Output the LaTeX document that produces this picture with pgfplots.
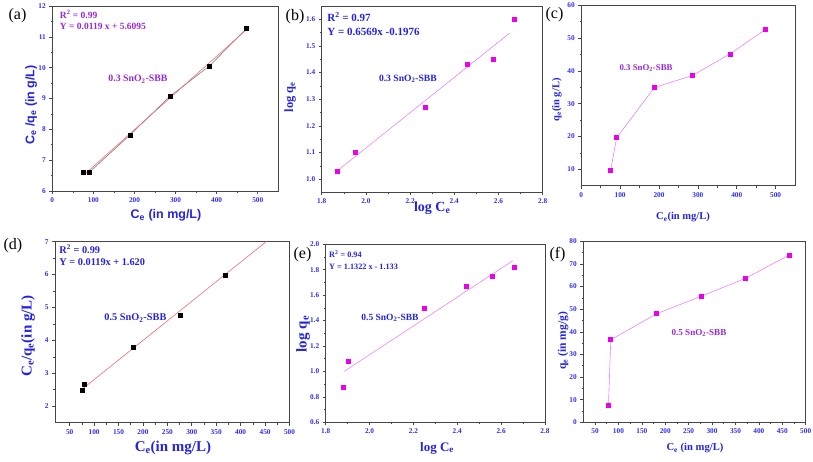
\documentclass[border=0pt]{standalone}
\usepackage{pgfplots}
\pgfplotsset{compat=1.18}
\usepackage{fontspec}
\setmainfont{Liberation Serif}
\newfontfamily\arialfont{Liberation Sans}
\definecolor{lblue}{RGB}{35,35,225}
\definecolor{tblue}{RGB}{45,45,240}
\definecolor{apurple}{RGB}{150,40,215}
\definecolor{mag}{RGB}{235,0,235}
\definecolor{vline}{RGB}{228,135,242}
\definecolor{frame}{RGB}{70,70,70}
\definecolor{fitred}{RGB}{240,110,110}
\pgfplotsset{
 panel/.style={scale only axis, anchor=south west, tick pos=left, tick align=outside,
  axis line style={frame, line width=0.9pt}, major tick length=3pt, minor tick length=1.8pt,
  every tick/.style={frame, line width=0.6pt}, minor tick num=1,
  tick label style={font=\fontsize{7.3}{8}\selectfont\bfseries, text=tblue},
  /pgf/number format/assume math mode=true,
  clip=true},
 onedec/.style={/pgf/number format/.cd, fixed, fixed zerofill, precision=1},
 msq/.style={only marks, mark=square*, mark size=2pt},
}
\begin{document}
\begin{tikzpicture}
\useasboundingbox (0,0) rectangle (813pt,461pt);
% ---------------- (a)
\begin{axis}[panel, at={(52.3pt,270pt)}, width=226pt, height=185pt,
 xmin=0, xmax=550, ymin=6, ymax=12, xtick={0,100,...,500}, ytick={6,7,...,12},
 xlabel={C\textsubscript{e} (in mg/L)}, ylabel={C\textsubscript{e} /q\textsubscript{e} (in g/L)},
 xlabel style={at={(axis description cs:0.503,-0.13)}, anchor=center, font=\arialfont\bfseries\fontsize{12.5}{13}\selectfont, text=lblue},
 ylabel style={at={(axis description cs:-0.094,0.465)}, anchor=center, font=\arialfont\bfseries\fontsize{12.5}{13}\selectfont, text=lblue}]
\addplot[color=frame!70, line width=0.6pt] coordinates {(76,6.6) (91,6.62) (188.5,7.81) (287,9.08) (383,10.06) (472.5,11.27)};
\addplot[color=fitred, line width=0.6pt] coordinates {(76,6.51) (473,11.24)};
\addplot[msq, color=black] coordinates {(76,6.6) (91,6.62) (188.5,7.81) (287,9.08) (383,10.06) (472.5,11.27)};
\node[anchor=west, font=\bfseries\fontsize{9.5}{10}\selectfont, text=apurple] at (rel axis cs:0.018,0.953) {R\textsuperscript{2} = 0.99};
\node[anchor=west, font=\bfseries\fontsize{9.5}{10}\selectfont, text=apurple] at (rel axis cs:0.018,0.888) {Y = 0.0119 x + 5.6095};
\node[font=\bfseries\fontsize{9.8}{10}\selectfont, text=apurple] at (rel axis cs:0.379,0.605) {0.3 SnO\textsubscript{2}-SBB};
\end{axis}
% ---------------- (b)
\begin{axis}[panel, at={(321.7pt,268.5pt)}, width=221pt, height=186.5pt,
 xmin=1.8, xmax=2.8, ymin=0.95, ymax=1.65, xtick={1.8,2.0,...,2.8}, ytick={1.0,1.1,...,1.6},
 xticklabel style={onedec}, yticklabel style={onedec},
 xlabel={log C\textsubscript{e}}, ylabel={log q\textsubscript{e}},
 xlabel style={at={(axis description cs:0.5,-0.085)}, anchor=center, font=\bfseries\fontsize{14}{15}\selectfont, text=lblue},
 ylabel style={at={(axis description cs:-0.143,0.512)}, anchor=center, font=\bfseries\fontsize{12.5}{13}\selectfont, text=lblue}]
\addplot[color=vline, line width=0.6pt] coordinates {(1.87,1.031) (2.65,1.548)};
\addplot[msq, color=mag] coordinates {(1.871,1.031) (1.950,1.101) (2.269,1.270) (2.459,1.430) (2.577,1.450) (2.669,1.600)};
\node[anchor=west, font=\bfseries\fontsize{11}{12}\selectfont, text=lblue] at (rel axis cs:0.01,0.943) {R\textsuperscript{2} = 0.97};
\node[anchor=west, font=\bfseries\fontsize{11}{12}\selectfont, text=lblue] at (rel axis cs:0.01,0.861) {Y = 0.6569x -0.1976};
\node[font=\bfseries\fontsize{9.6}{10}\selectfont, text=lblue] at (rel axis cs:0.39,0.609) {0.3 SnO\textsubscript{2}-SBB};
\end{axis}
% ---------------- (c)
\begin{axis}[panel, at={(581.3pt,275.3pt)}, width=213.7pt, height=180.4pt,
 xmin=0, xmax=550, ymin=5, ymax=60, xtick={0,100,...,500}, ytick={10,20,...,60},
 xlabel={C\textsubscript{e}(in mg/L)}, ylabel={q\textsubscript{e}(in g/L)},
 xlabel style={at={(axis description cs:0.476,-0.173)}, anchor=center, font=\bfseries\fontsize{10.5}{11}\selectfont, text=lblue},
 ylabel style={at={(axis description cs:-0.114,0.475)}, anchor=center, font=\bfseries\fontsize{10.5}{11}\selectfont, text=lblue}]
\addplot[color=vline, line width=0.6pt, mark=square*, mark size=2pt, mark options={color=mag}] coordinates {(75.5,9.6) (91,19.65) (188.7,35.0) (285.6,38.56) (382.5,45.16) (473.4,52.6)};
\node[font=\bfseries\fontsize{8.8}{9}\selectfont, text=apurple] at (rel axis cs:0.303,0.652) {0.3 SnO\textsubscript{2}-SBB};
\end{axis}
% ---------------- (d)
\begin{axis}[panel, at={(55pt,38.3pt)}, width=234.5pt, height=181pt,
 xmin=20, xmax=500, ymin=1.5, ymax=7, xtick={50,100,...,500}, ytick={2,3,...,7},
 xlabel={C\textsubscript{e}(in mg/L)}, ylabel={C\textsubscript{e}/q\textsubscript{e}(in g/L)},
 xlabel style={at={(axis description cs:0.503,-0.14)}, anchor=center, font=\bfseries\fontsize{15}{16}\selectfont, text=lblue},
 ylabel style={at={(axis description cs:-0.115,0.479)}, anchor=center, font=\bfseries\fontsize{15}{16}\selectfont, text=lblue}]
\addplot[color=fitred, line width=0.6pt] coordinates {(78,2.548) (453,7.01)};
\addplot[msq, color=black] coordinates {(76.5,2.48) (80.6,2.68) (180,3.795) (276,4.77) (368.6,5.986)};
\node[anchor=west, font=\bfseries\fontsize{10.3}{11}\selectfont, text=lblue] at (rel axis cs:0.004,0.96) {R\textsuperscript{2} = 0.99};
\node[anchor=west, font=\bfseries\fontsize{10.3}{11}\selectfont, text=lblue] at (rel axis cs:0.004,0.888) {Y = 0.0119x + 1.620};
\node[font=\bfseries\fontsize{10.3}{11}\selectfont, text=lblue] at (rel axis cs:0.343,0.578) {0.5 SnO\textsubscript{2}-SBB};
\end{axis}
% ---------------- (e)
\begin{axis}[panel, at={(325.7pt,38.7pt)}, width=219.3pt, height=178pt,
 xmin=1.8, xmax=2.8, ymin=0.6, ymax=2.0, xtick={1.8,2.0,...,2.8}, ytick={0.6,0.8,...,2.0},
 xticklabel style={onedec}, yticklabel style={onedec},
 xlabel={log C\textsubscript{e}}, ylabel={log q\textsubscript{e}},
 xlabel style={at={(axis description cs:0.508,-0.144)}, anchor=center, font=\bfseries\fontsize{13}{14}\selectfont, text=lblue},
 ylabel style={at={(axis description cs:-0.1035,0.496)}, anchor=center, font=\bfseries\fontsize{15}{16}\selectfont, text=lblue}]
\addplot[color=vline, line width=0.6pt] coordinates {(1.885,1.001) (2.653,1.871)};
\addplot[msq, color=mag] coordinates {(1.882,0.880) (1.903,1.080) (2.251,1.497) (2.441,1.667) (2.558,1.748) (2.659,1.819)};
\node[anchor=west, font=\bfseries\fontsize{8.2}{9}\selectfont, text=lblue] at (rel axis cs:0.0,0.946) {R\textsuperscript{2} = 0.94};
\node[anchor=west, font=\bfseries\fontsize{8.2}{9}\selectfont, text=lblue] at (rel axis cs:0.0,0.873) {Y = 1.1322 x - 1.133};
\node[font=\bfseries\fontsize{9.5}{10}\selectfont, text=lblue] at (rel axis cs:0.293,0.586) {0.5 SnO\textsubscript{2}-SBB};
\end{axis}
% ---------------- (f)
\begin{axis}[panel, at={(583.3pt,38.7pt)}, width=222.4pt, height=181pt,
 xmin=25, xmax=500, ymin=0, ymax=80, xtick={50,100,...,500}, ytick={0,10,...,80},
 xlabel={C\textsubscript{e} (in mg/L)}, ylabel={q\textsubscript{e} (in mg/g)},
 xlabel style={at={(axis description cs:0.502,-0.142)}, anchor=center, font=\bfseries\fontsize{10.6}{11}\selectfont, text=lblue},
 ylabel style={at={(axis description cs:-0.091,0.449)}, anchor=center, font=\bfseries\fontsize{11.5}{12}\selectfont, text=lblue}]
\addplot[color=vline, line width=0.6pt, mark=square*, mark size=2pt, mark options={color=mag}] coordinates {(78.7,7.66) (83.7,36.5) (181.8,48.0) (277.8,55.8) (371,63.6) (464.9,73.96)};
\node[font=\bfseries\fontsize{9.1}{10}\selectfont, text=apurple] at (rel axis cs:0.52,0.493) {0.5 SnO\textsubscript{2}-SBB};
\end{axis}
% panel letters
\node[font=\fontsize{16}{17}\selectfont] at (17.5pt,445pt) {(a)};
\node[font=\fontsize{16}{17}\selectfont] at (295pt,444.3pt) {(b)};
\node[font=\fontsize{16}{17}\selectfont] at (554.5pt,446pt) {(c)};
\node[font=\fontsize{16}{17}\selectfont] at (13pt,215pt) {(d)};
\node[font=\fontsize{16}{17}\selectfont] at (302.5pt,206pt) {(e)};
\node[font=\fontsize{16}{17}\selectfont] at (557.5pt,206pt) {(f)};
\end{tikzpicture}
\end{document}
